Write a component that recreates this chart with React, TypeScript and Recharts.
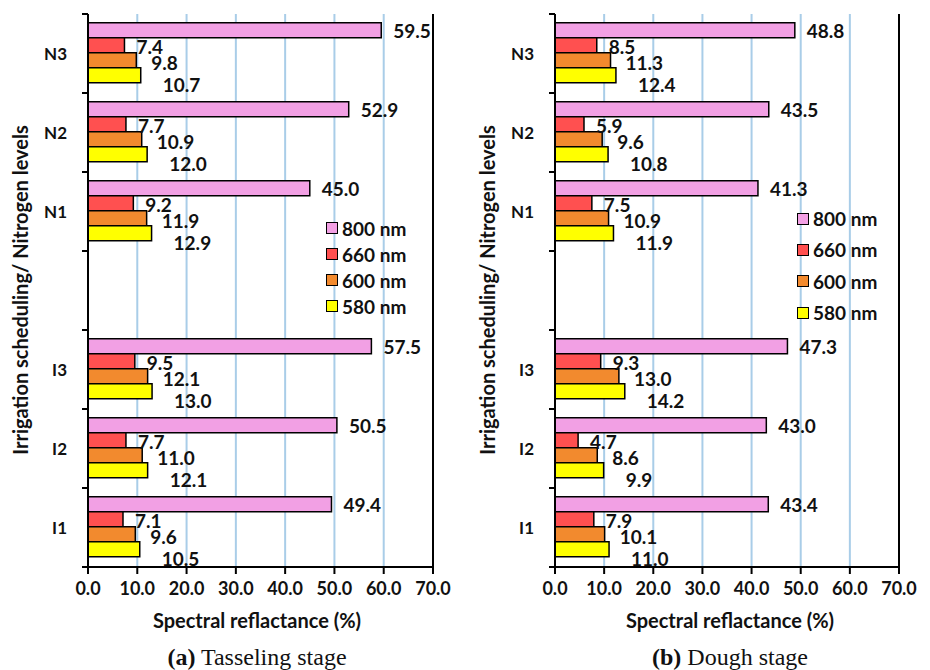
import React from 'react';
import { BarChart, Bar, XAxis, YAxis, CartesianGrid, LabelList, ReferenceLine } from 'recharts';

const categories = ['N3', 'N2', 'N1', '', 'I3', 'I2', 'I1'];
const xTicks = [0, 10, 20, 30, 40, 50, 60, 70];

// (a) Tasseling stage
const tassel800 = [59.5, 52.9, 45.0, null, 57.5, 50.5, 49.4];
const tassel660 = [7.4, 7.7, 9.2, null, 9.5, 7.7, 7.1];
const tassel600 = [9.8, 10.9, 11.9, null, 12.1, 11.0, 9.6];
const tassel580 = [10.7, 12.0, 12.9, null, 13.0, 12.1, 10.5];

// (b) Dough stage
const dough800 = [48.8, 43.5, 41.3, null, 47.3, 43.0, 43.4];
const dough660 = [8.5, 5.9, 7.5, null, 9.3, 4.7, 7.9];
const dough600 = [11.3, 9.6, 10.9, null, 13.0, 8.6, 10.1];
const dough580 = [12.4, 10.8, 11.9, null, 14.2, 9.9, 11.0];

const FONT = 'Lato, "Open Sans", sans-serif';

const series = [
  { key: 'w800', name: '800 nm', color: '#f2a0e4', dx: 12, dy: 0 },
  { key: 'w660', name: '660 nm', color: '#ff5050', dx: 12, dy: 1 },
  { key: 'w600', name: '600 nm', color: '#f28a2e', dx: 15, dy: 2 },
  { key: 'w580', name: '580 nm', color: '#ffff00', dx: 22, dy: 9 },
];

const buildRows = (v800: any[], v660: any[], v600: any[], v580: any[]) =>
  categories.map((cat, i) => ({ cat, w800: v800[i], w660: v660[i], w600: v600[i], w580: v580[i] }));

const tasselRows = buildRows(tassel800, tassel660, tassel600, tassel580);
const doughRows = buildRows(dough800, dough660, dough600, dough580);

const PLOT_TOP = 14;
const PLOT_H = 553;
const BAND = PLOT_H / categories.length;
const TICK_SIZE = 6;
const TICK_MARGIN = 15;

const CategoryTick = ({ x, y, payload, index }: any) => {
  const axisX = x + TICK_SIZE + TICK_MARGIN;
  const last = index === categories.length - 1;
  return (
    <g>
      <line x1={axisX - TICK_SIZE} x2={axisX} y1={y - BAND / 2} y2={y - BAND / 2} stroke="#000" strokeWidth={2} />
      {last && <line x1={axisX - TICK_SIZE} x2={axisX} y1={y + BAND / 2} y2={y + BAND / 2} stroke="#000" strokeWidth={2} />}
      <text x={x} y={y} textAnchor="end" dominantBaseline="central" fontFamily={FONT} fontWeight={700} fontSize={17} fill="#111">
        {payload.value}
      </text>
    </g>
  );
};

const makeLabel = (dx: number, dy: number) => (props: any) => {
  const { x, y, width, height, value } = props;
  if (value == null) return null;
  return (
    <text x={x + width + dx} y={y + height / 2 + dy} dominantBaseline="central" fontFamily={FONT} fontWeight={700} fontSize={19} fill="#111">
      {Number(value).toFixed(1)}
    </text>
  );
};

const LegendBox = ({ rowGap, left, top }: { rowGap: number; left: number; top: number }) => (
  <div style={{ position: 'absolute', left, top, fontFamily: FONT, fontWeight: 700, fontSize: 19, color: '#111' }}>
    {series.map((s) => (
      <div key={s.key} style={{ display: 'flex', alignItems: 'center', height: rowGap }}>
        <span style={{ width: 10, height: 10, background: s.color, border: '1.5px solid #000', marginRight: 4 }} />
        <span>{s.name}</span>
      </div>
    ))}
  </div>
);

interface PanelProps {
  rows: any[];
  left: number;
  axisWidth: number;
  marginRight: number;
  legendPos: { left: number; top: number };
  legendGap: number;
  caption: string;
  captionX: number;
  titleX: number;
}

const Panel: React.FC<PanelProps> = ({ rows, left, axisWidth, marginRight, legendPos, legendGap, caption, captionX, titleX }) => (
  <>
    <div style={{ position: 'absolute', left, top: 0, width: 465, height: 600 }}>
      <BarChart
        width={465}
        height={600}
        data={rows}
        layout="vertical"
        barGap={0}
        barCategoryGap="11%"
        margin={{ top: PLOT_TOP, right: marginRight, left: 0, bottom: 3 }}
      >
        <CartesianGrid horizontal={false} stroke="#a9cde8" strokeWidth={2} />
        <XAxis
          type="number"
          domain={[0, 70]}
          ticks={xTicks}
          interval={0}
          height={30}
          tickFormatter={(v) => v.toFixed(1)}
          tick={{ fontFamily: FONT, fontWeight: 700, fontSize: 18, fill: '#111' }}
          axisLine={{ stroke: '#000', strokeWidth: 2 }}
          tickLine={{ stroke: '#000', strokeWidth: 2 }}
          tickSize={7}
          tickMargin={8}
        />
        <XAxis
          xAxisId="frameTop"
          orientation="top"
          type="number"
          domain={[0, 70]}
          height={0}
          tick={false}
          tickLine={false}
          axisLine={{ stroke: '#000', strokeWidth: 2 }}
        />
        <YAxis
          type="category"
          dataKey="cat"
          width={axisWidth}
          interval={0}
          axisLine={{ stroke: '#000', strokeWidth: 2 }}
          tickLine={false}
          tickSize={TICK_SIZE}
          tickMargin={TICK_MARGIN}
          tick={<CategoryTick />}
        />
        <ReferenceLine x={70} stroke="#000" strokeWidth={2} />
        {series.map((s) => (
          <Bar key={s.key} dataKey={s.key} name={s.name} fill={s.color} stroke="#000" strokeWidth={1.5} isAnimationActive={false}>
            <LabelList dataKey={s.key} content={makeLabel(s.dx, s.dy)} />
          </Bar>
        ))}
      </BarChart>
      <LegendBox rowGap={legendGap} left={legendPos.left} top={legendPos.top} />
    </div>
    <div
      style={{
        position: 'absolute',
        left: titleX - 200,
        top: 290 - 12,
        width: 400,
        textAlign: 'center',
        transform: 'rotate(-90deg)',
        fontFamily: FONT,
        fontWeight: 700,
        fontSize: 20,
        color: '#111',
        lineHeight: '24px',
      }}
    >
      Irrigation scheduling/ Nitrogen levels
    </div>
    <div
      style={{
        position: 'absolute',
        left: captionX - 150,
        top: 607,
        width: 300,
        textAlign: 'center',
        fontFamily: FONT,
        fontWeight: 700,
        fontSize: 20,
        color: '#111',
        lineHeight: '26px',
      }}
    >
      Spectral reflactance (%)
    </div>
    <div
      style={{
        position: 'absolute',
        left: captionX - 150,
        top: 642,
        width: 300,
        textAlign: 'center',
        fontFamily: '"Liberation Serif", "DejaVu Serif", serif',
        fontSize: 24,
        color: '#111',
        lineHeight: '30px',
      }}
    >
      <b>{caption.slice(0, 3)}</b>
      {caption.slice(3)}
    </div>
  </>
);

export default function App() {
  return (
    <div style={{ position: 'absolute', left: 0, top: 0, width: 930, height: 670, background: '#fff', overflow: 'hidden' }}>
      <Panel
        rows={tasselRows}
        left={0}
        axisWidth={88}
        marginRight={32}
        legendPos={{ left: 326, top: 215 }}
        legendGap={26}
        caption="(a) Tasseling stage"
        captionX={257}
        titleX={20}
      />
      <Panel
        rows={doughRows}
        left={465}
        axisWidth={90}
        marginRight={31}
        legendPos={{ left: 332, top: 203 }}
        legendGap={31.3}
        caption="(b) Dough stage"
        captionX={730}
        titleX={487}
      />
    </div>
  );
}
